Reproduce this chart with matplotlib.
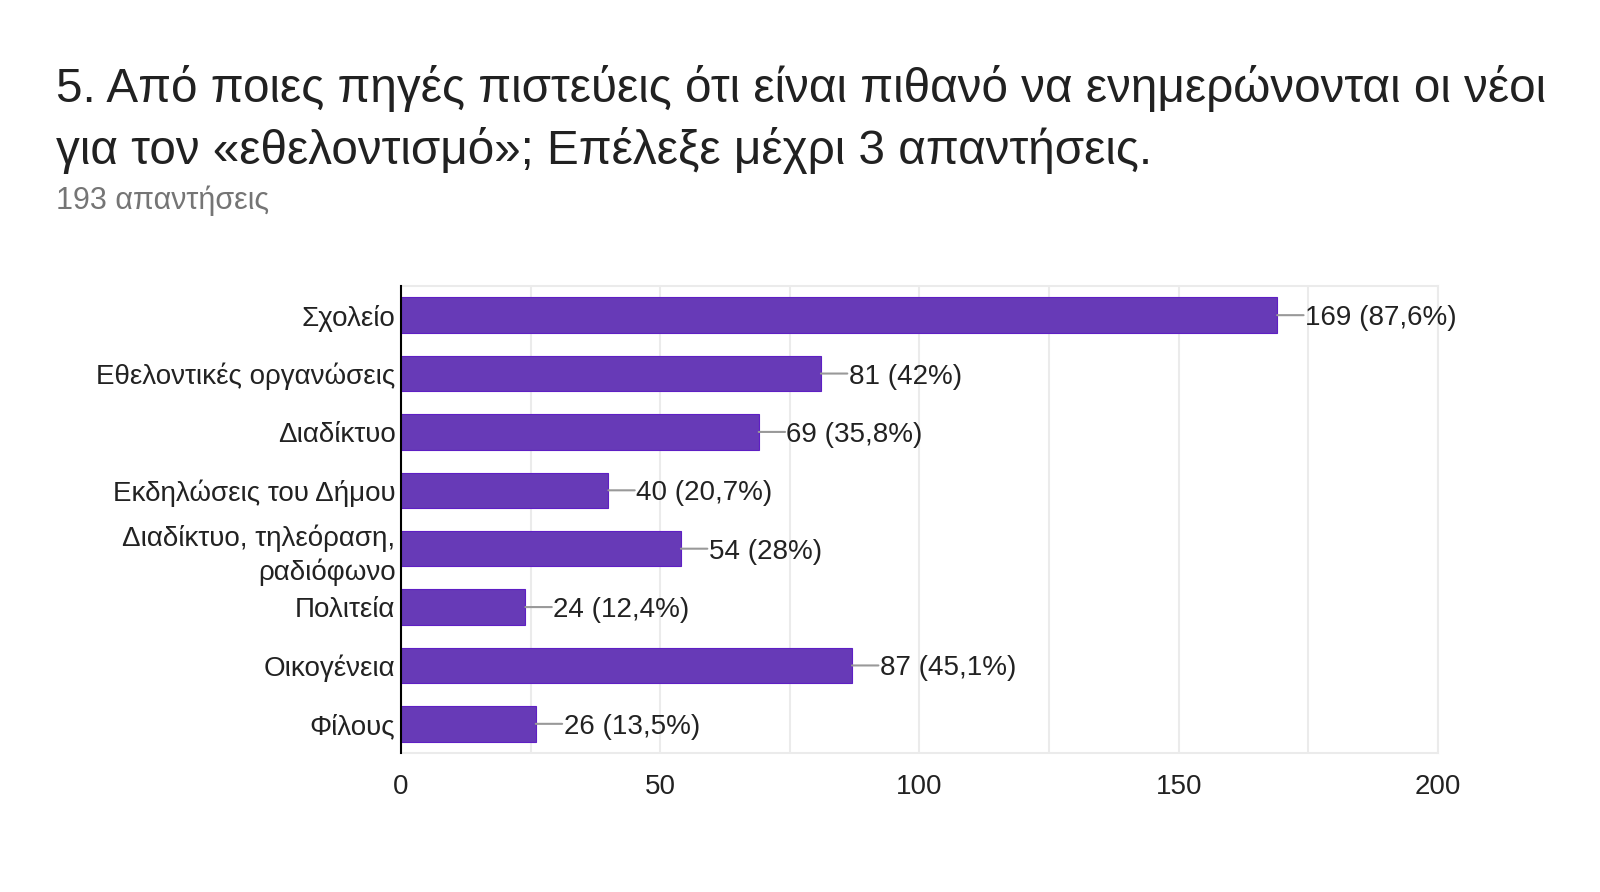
import matplotlib.pyplot as plt
import numpy as np

plt.rcParams['font.family'] = ['Liberation Sans', 'DejaVu Sans']

# data
categories = ['Σχολείο', 'Εθελοντικές οργανώσεις', 'Διαδίκτυο', 'Εκδηλώσεις του Δήμου',
              'Διαδίκτυο, τηλεόραση,\nραδιόφωνο', 'Πολιτεία', 'Οικογένεια', 'Φίλους']
counts = [169, 81, 69, 40, 54, 24, 87, 26]
percents = ['87,6%', '42%', '35,8%', '20,7%', '28%', '12,4%', '45,1%', '13,5%']
x_ticks = [0, 50, 100, 150, 200]

title = ('5. Από ποιες πηγές πιστεύεις ότι είναι πιθανό να ενημερώνονται οι νέοι\n'
         'για τον «εθελοντισμό»; Επέλεξε μέχρι 3 απαντήσεις.')
subtitle = '193 απαντήσεις'

fig = plt.figure(figsize=(16, 8.92), dpi=100)
ax = fig.add_axes([0.2506, 0.1558, 0.6481, 0.5236])

y = np.arange(len(categories))
ax.barh(y, counts, height=0.61, color='#673ab7', edgecolor='#5e1fc4', linewidth=0.8, zorder=3)

for yi, c, p in zip(y, counts, percents):
    # leader line, then the label
    ax.annotate('', xy=(c, yi), xytext=(19, 0), textcoords='offset points',
                arrowprops=dict(arrowstyle='-', color='#999999', lw=1.5,
                                shrinkA=0, shrinkB=0))
    ax.annotate(f'{c} ({p})', xy=(c, yi), xytext=(20, 0), textcoords='offset points',
                va='center_baseline', ha='left', fontsize=20, color='#222222')

ax.set_xlim(0, 200)
ax.set_ylim(7.5, -0.5)
ax.set_yticks(y)
ax.set_yticklabels(categories, fontsize=20, color='#222222', linespacing=1.3)
ax.set_xticks(x_ticks)
ax.set_xticklabels([str(t) for t in x_ticks], fontsize=20, color='#222222')
ax.set_xticks(np.arange(0, 201, 25), minor=True)
ax.tick_params(axis='both', length=0, which='both')
ax.tick_params(axis='x', pad=15)
ax.tick_params(axis='y', pad=4)
ax.grid(axis='x', which='both', color='#ebebeb', linewidth=1.5, zorder=0)

for s in ['top', 'right', 'bottom']:
    ax.spines[s].set_color('#ebebeb')
    ax.spines[s].set_linewidth(1.5)
ax.spines['left'].set_color('#000000')
ax.spines['left'].set_linewidth(1.5)
ax.spines['left'].set_zorder(4)

fig.text(0.035, 0.866, title, fontsize=34.3, color='#212121', ha='left', va='center',
         linespacing=1.38)
fig.text(0.035, 0.7746, subtitle, fontsize=22, color='#757575', ha='left', va='center')

fig.savefig('out.png', dpi=100)
